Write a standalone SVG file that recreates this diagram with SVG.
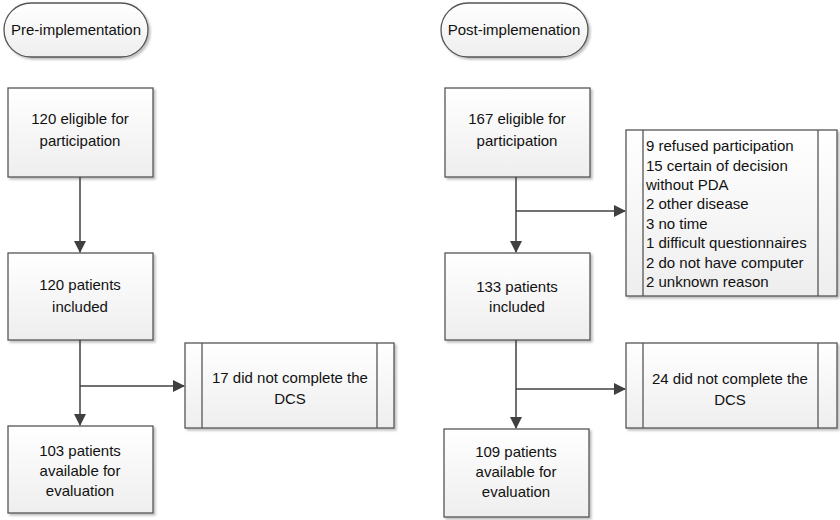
<svg xmlns="http://www.w3.org/2000/svg" width="840" height="520" viewBox="0 0 840 520">
<defs>
<linearGradient id="g" x1="0" y1="0" x2="0" y2="1"><stop offset="0" stop-color="#ffffff"/><stop offset="1" stop-color="#eeeeee"/></linearGradient>
<marker id="ah" markerWidth="12" markerHeight="12" refX="11" refY="6" orient="auto" markerUnits="userSpaceOnUse"><path d="M0,0 L12,6 L0,12 Z" fill="#404040"/></marker>
<filter id="sh" x="-5%" y="-5%" width="115%" height="115%"><feDropShadow dx="2" dy="2" stdDeviation="1.2" flood-color="#000" flood-opacity="0.25"/></filter>
</defs>
<style>
.b{fill:url(#g);stroke:#555;stroke-width:1.3;filter:url(#sh)}
.s{stroke:#555;stroke-width:1.3}
.t{font-family:"Liberation Sans",Arial,sans-serif;font-size:15px;fill:#111;text-anchor:middle}
.l{font-family:"Liberation Sans",Arial,sans-serif;font-size:15px;fill:#111}
.c{stroke:#404040;stroke-width:1.5;fill:none}
</style>
<rect width="840" height="520" fill="#fff"/>
<g id="pre"><rect class="b" x="4" y="3" width="144" height="54" rx="27"/><text class="t" x="76" y="35">Pre-implementation</text></g>
<g id="post"><rect class="b" x="441" y="3" width="147" height="54" rx="27"/><text class="t" x="514" y="35">Post-implemenation</text></g>
<g id="l1"><rect class="b" x="8" y="88" width="145" height="89"/><text class="t" x="80" y="124">120 eligible for</text><text class="t" x="80" y="146">participation</text></g>
<g id="l2"><rect class="b" x="8" y="253" width="145" height="87"/><text class="t" x="80" y="290">120 patients</text><text class="t" x="80" y="312">included</text></g>
<g id="l3"><rect class="b" x="8" y="426" width="145" height="87"/><text class="t" x="80" y="456">103 patients</text><text class="t" x="80" y="476">available for</text><text class="t" x="80" y="496">evaluation</text></g>
<g id="ls"><rect class="b" x="185" y="343" width="209" height="85"/><line class="s" x1="202" y1="343" x2="202" y2="428"/><line class="s" x1="377" y1="343" x2="377" y2="428"/><text class="t" x="290" y="383">17 did not complete the</text><text class="t" x="290" y="404">DCS</text></g>
<g id="r1"><rect class="b" x="445" y="88" width="145" height="89"/><text class="t" x="517" y="124">167 eligible for</text><text class="t" x="517" y="146">participation</text></g>
<g id="r2"><rect class="b" x="445" y="253" width="145" height="87"/><text class="t" x="517" y="292">133 patients</text><text class="t" x="517" y="312">included</text></g>
<g id="r3"><rect class="b" x="444" y="429" width="145" height="88"/><text class="t" x="516" y="457">109 patients</text><text class="t" x="516" y="477">available for</text><text class="t" x="516" y="497">evaluation</text></g>
<g id="rs1"><rect class="b" x="626" y="130" width="211" height="166"/><line class="s" x1="643" y1="130" x2="643" y2="296"/><line class="s" x1="818" y1="130" x2="818" y2="296"/>
<text class="l" x="646"><tspan x="646" y="151">9 refused participation</tspan><tspan x="646" y="171">15 certain of decision</tspan><tspan x="646" y="190">without PDA</tspan><tspan x="646" y="209">2 other disease</tspan><tspan x="646" y="229">3 no time</tspan><tspan x="646" y="248">1 difficult questionnaires</tspan><tspan x="646" y="268">2 do not have computer</tspan><tspan x="646" y="287">2 unknown reason</tspan></text></g>
<g id="rs2"><rect class="b" x="626" y="343" width="211" height="85"/><line class="s" x1="643" y1="343" x2="643" y2="428"/><line class="s" x1="818" y1="343" x2="818" y2="428"/><text class="t" x="730" y="384">24 did not complete the</text><text class="t" x="730" y="405">DCS</text></g>
<g id="connectors">
<line class="c" x1="80" y1="177" x2="80" y2="252" marker-end="url(#ah)"/>
<line class="c" x1="80" y1="340" x2="80" y2="425" marker-end="url(#ah)"/>
<line class="c" x1="80" y1="386" x2="184" y2="386" marker-end="url(#ah)"/>
<line class="c" x1="516" y1="177" x2="516" y2="252" marker-end="url(#ah)"/>
<line class="c" x1="516" y1="211" x2="625" y2="211" marker-end="url(#ah)"/>
<line class="c" x1="516" y1="340" x2="516" y2="428" marker-end="url(#ah)"/>
<line class="c" x1="516" y1="389" x2="625" y2="389" marker-end="url(#ah)"/>
</g>
</svg>
